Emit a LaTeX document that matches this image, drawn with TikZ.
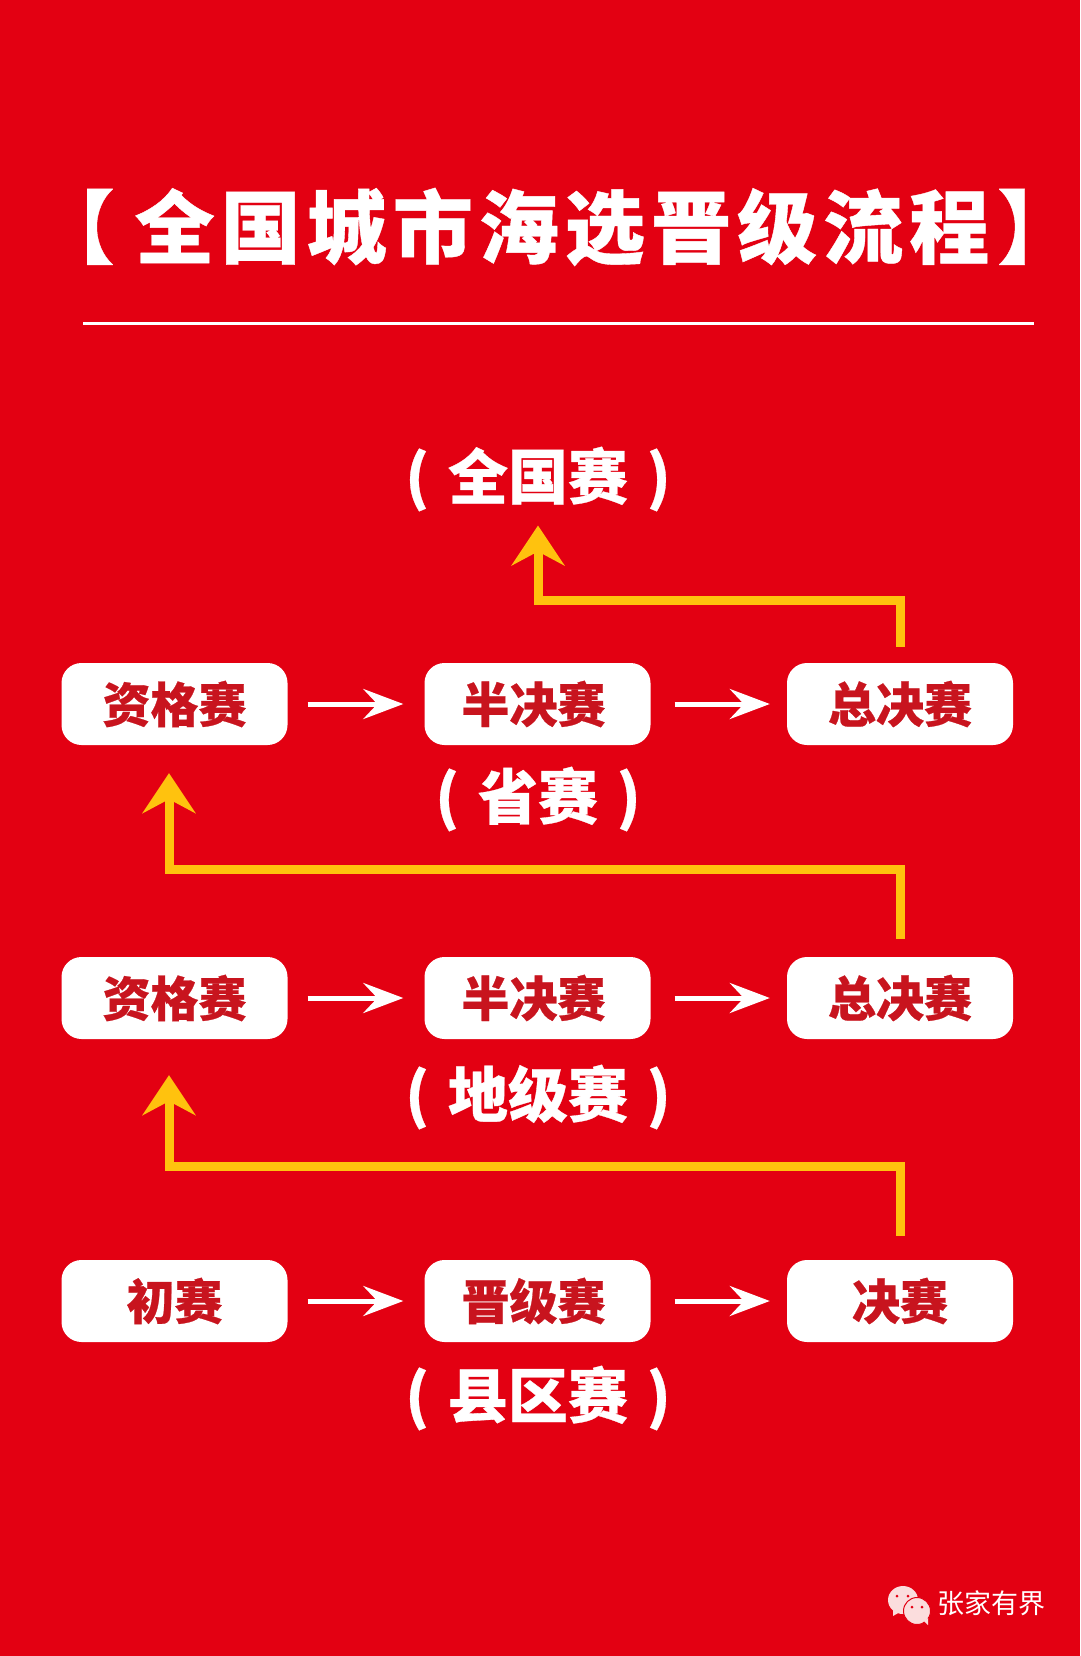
\documentclass[tikz,border=0pt]{standalone}
\usepackage{fontspec}
\usepackage{xcolor}
\newfontfamily\cjk{Noto Sans CJK SC}[BoldFeatures={FakeBold=0.5}]
\usetikzlibrary{arrows.meta,positioning,calc}
\definecolor{bgred}{HTML}{E30012}
\definecolor{textred}{HTML}{C8141E}
\definecolor{lineyellow}{HTML}{FFC20E}
\definecolor{iconpink}{HTML}{FBDDDD}

\begin{document}
\begin{tikzpicture}[
    x=1pt, y=-1pt,
    stage/.style={rectangle, rounded corners=20pt, fill=white, minimum width=226pt, minimum height=82pt, inner sep=0pt, text=textred, font=\cjk\bfseries\fontsize{48}{50}\selectfont},
    level/.style={inner sep=0pt, minimum height=60pt, text=white, font=\cjk\bfseries\fontsize{60}{62}\selectfont},
    next/.style={draw=white, line width=5pt, shorten <=20pt, shorten >=21pt, -{Stealth[length=40pt,width=30pt,inset=14pt]}},
    promote/.style={draw=lineyellow, line width=9pt, -{Stealth[length=40pt,width=53pt,inset=14pt]}}
]
\useasboundingbox (0,0) rectangle (1080,1656);
\fill[bgred] (0,0) rectangle (1080,1656);

% Title
\node[inner sep=0pt, text=white, font=\cjk\bfseries\fontsize{80}{84}\selectfont\addfontfeature{LetterSpace=7.6}] (title) at (556,227) {【\hspace{20pt}全国城市海选晋级流程\hspace{8pt}】};
\coordinate (ruleleft) at (83,323);
\coordinate (ruleright) at (1034,323);
\draw[white, line width=3pt] (ruleleft) -- (ruleright);

% Province row
\node[stage] (qual1) at (174.5,704) {资格赛};
\node[stage] (semi1) at (537.5,704) {\hspace*{-8pt}半决赛};
\node[stage] (final1) at (900,704) {总决赛};

% City row
\node[stage] (qual2) at (174.5,998) {资格赛};
\node[stage] (semi2) at (537.5,998) {\hspace*{-8pt}半决赛};
\node[stage] (final2) at (900,998) {总决赛};

% County row
\node[stage] (first3) at (174.5,1301) {初赛};
\node[stage] (semi3) at (537.5,1301) {\hspace*{-8pt}晋级赛};
\node[stage] (final3) at (900,1301) {决赛};

% Levels
\node[level] (national) at (538,479) {(\hspace{5pt} 全国赛 \hspace{5pt})};
\node[level] (province) at (538,799) {(\hspace{5pt} 省赛 \hspace{5pt})};
\node[level] (city) at (538,1097) {(\hspace{5pt} 地级赛 \hspace{5pt})};
\node[level] (county) at (538,1398) {(\hspace{5pt} 县区赛 \hspace{5pt})};

% Steps in a row
\draw[next] (qual1) -- (semi1);
\draw[next, shorten <=24pt, shorten >=17pt] (semi1) -- (final1);
\draw[next] (qual2) -- (semi2);
\draw[next, shorten <=24pt, shorten >=17pt] (semi2) -- (final2);
\draw[next] (first3) -- (semi3);
\draw[next, shorten <=24pt, shorten >=17pt] (semi3) -- (final3);

% Promotion
\coordinate (bend1) at (538,600);
\coordinate (bend2) at (169,869);
\coordinate (bend3) at (169,1166);
\draw[promote, shorten <=16pt, shorten >=14pt] (final1.north) -- (final1.north |- bend1) -- (bend1) -- (bend1 |- national.south);
\draw[promote, shorten <=18pt, shorten >=28pt] (final2.north) -- (final2.north |- bend2) -- (bend2) -- (bend2 |- qual1.south);
\draw[promote, shorten <=24pt, shorten >=36pt] (final3.north) -- (final3.north |- bend3) -- (bend3) -- (bend3 |- qual2.south);

% Mark
\fill[iconpink] (903,1600) ellipse (15pt and 14pt);
\fill[iconpink] (893,1609) -- (893,1616) -- (900,1612) -- cycle;
\fill[iconpink, draw=bgred, line width=1pt] (917,1611) circle (13.5pt);
\fill[iconpink] (924,1621) -- (928,1625) -- (928,1618) -- cycle;
\fill[bgred] (897,1596) circle (1.5pt) (908,1596) circle (1.5pt) (912,1607) circle (1.5pt) (922,1607) circle (1.5pt);
\node[inner sep=0pt, text=white, font=\cjk\fontsize{27}{30}\selectfont] (mark) at (991,1603) {张家有界};

\end{tikzpicture}
\end{document}
